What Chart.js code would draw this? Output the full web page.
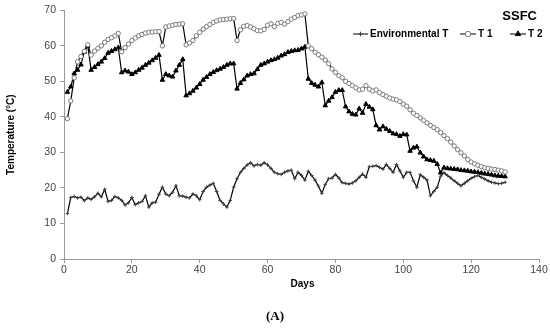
<!DOCTYPE html>
<html>
<head>
<meta charset="utf-8">
<script src="https://cdn.jsdelivr.net/npm/chart.js@4/dist/chart.umd.min.js"></script>
<style>
  html, body { margin: 0; padding: 0; background: #fff; }
  #wrap { width: 550px; height: 328px; position: relative; }
</style>
</head>
<body>
<div id="wrap"><canvas id="chart" width="550" height="328"></canvas></div>
<script>
// ── Data ──
const days = Array.from({ length: 130 }, (_, i) => i + 1);

const envT = [
  12.8, 17.3, 17.6, 17.2, 17.4, 16.4, 17.2, 16.8, 17.5, 18.5,
  17.5, 19.6, 16.2, 16.5, 17.6, 17.2, 16.5, 15.2, 15.8, 17.3,
  15.3, 15.8, 16.2, 17.8, 14.6, 15.8, 16.0, 18.2, 20.2, 18.3,
  17.8, 18.8, 20.6, 17.8, 17.7, 17.4, 17.2, 18.3, 17.8, 16.7,
  19.0, 20.2, 20.8, 21.3, 19.0, 16.5, 15.5, 14.6, 16.5, 20.2,
  22.6, 24.4, 25.5, 26.5, 27.1, 26.2, 26.6, 26.4, 27.1, 26.5,
  25.5, 24.4, 24.0, 23.8, 24.4, 24.8, 25.0, 22.6, 24.4, 23.5,
  22.2, 24.7, 23.5, 22.2, 20.5, 18.5, 21.0, 22.6, 22.8, 23.8,
  22.8, 21.5, 21.3, 21.1, 21.4, 22.0, 23.0, 23.9, 23.0, 26.0,
  26.1, 26.3, 25.8, 25.3, 26.6, 25.5, 24.4, 26.6, 24.8, 23.0,
  24.4, 24.4, 22.0, 20.2, 23.7, 23.0, 22.2, 17.8, 19.0, 20.2,
  23.3, 24.3, 23.5, 22.8, 22.0, 21.3, 20.6, 21.3, 22.0, 22.7,
  23.2, 23.5, 23.0, 22.5, 22.0, 21.6, 21.4, 21.2, 21.3, 21.6
];

const t1 = [
  39.5, 44.5, 51.0, 55.5, 57.0, 58.5, 60.3, 57.4, 58.5, 59.3,
  60.0, 61.0, 61.8, 62.3, 62.8, 63.5, 58.3, 59.5, 60.5, 61.5,
  62.2, 62.8, 63.2, 63.6, 63.8, 63.9, 64.0, 64.0, 60.0, 65.3,
  65.6, 65.8, 66.0, 66.1, 66.2, 60.3, 60.8, 61.5, 62.8, 63.8,
  64.7, 65.4, 66.0, 66.6, 67.0, 67.3, 67.4, 67.5, 67.6, 67.7,
  61.5, 64.5, 65.5, 65.7, 65.3, 64.8, 64.3, 64.2, 64.6, 65.8,
  66.2, 65.4, 66.3, 66.6, 66.1, 66.8, 67.5, 68.0, 68.5, 68.7,
  69.0, 60.0, 59.2, 58.2, 57.5, 56.8, 56.0, 55.0, 53.5, 52.5,
  51.6, 51.0, 50.0, 49.4, 48.8, 48.2, 47.6, 47.8, 48.8, 47.8,
  47.3, 47.6, 46.8, 46.3, 45.8, 45.3, 45.0, 44.8, 44.3, 43.6,
  43.0, 42.0, 41.0, 40.4, 39.7, 39.0, 38.3, 37.6, 37.0, 36.4,
  35.6, 34.7, 33.9, 32.9, 31.8, 30.8, 29.9, 29.0, 28.0, 27.3,
  26.8, 26.4, 26.0, 25.7, 25.5, 25.3, 25.2, 25.0, 24.8, 24.5
];

const t2 = [
  47.0, 48.5, 52.2, 53.2, 54.7, 58.3, 60.0, 53.2, 54.0, 54.8,
  55.5, 56.5, 58.0, 58.5, 59.0, 59.5, 52.5, 53.0, 52.7, 52.0,
  52.5, 53.2, 53.8, 54.6, 55.2, 55.9, 56.6, 57.4, 50.4, 52.0,
  51.6, 51.3, 53.0, 54.6, 56.2, 46.0, 46.6, 47.3, 48.2, 49.2,
  50.4, 51.2, 52.0, 52.6, 53.1, 53.5, 54.0, 54.6, 55.0, 55.0,
  47.9, 49.5, 50.5, 51.6, 52.0, 52.2, 53.4, 54.6, 55.0, 55.5,
  55.9, 56.2, 56.6, 57.2, 57.6, 58.2, 58.5, 58.7, 58.8, 59.2,
  59.7, 50.7, 49.5, 49.0, 48.5, 49.7, 43.2, 44.5, 45.5, 47.0,
  47.5, 47.5, 42.9, 41.5, 40.8, 40.6, 42.3, 41.1, 43.6, 42.8,
  42.1, 37.6, 36.4, 37.3, 36.6, 36.0, 35.3, 35.1, 34.6, 35.1,
  35.0, 30.4, 31.3, 31.6, 29.9, 28.8, 28.0, 27.8, 27.6, 26.7,
  24.3, 25.7, 25.5, 25.4, 25.3, 25.2, 25.0, 24.9, 24.8, 24.6,
  24.5, 24.4, 24.2, 24.0, 23.9, 23.7, 23.5, 23.4, 23.3, 23.2
];

const seriesNames = ['Environmental T', 'T 1', 'T 2'];
const xTicks = { min: 0, max: 140, step: 20 };
const yTicks = { min: 0, max: 70, step: 10 };

// ── Helpers ──
const toPoints = vals => vals.map((v, i) => ({ x: days[i], y: v }));

const FONT = "'Liberation Sans', Arial, sans-serif";

const styles = [
  { pointStyle: 'cross', radius: 1.8, bg: '#444', border: '#444', bw: 1 },
  { pointStyle: 'circle', radius: 2.2, bg: '#fff', border: '#7a7a7a', bw: 1 },
  { pointStyle: 'triangle', radius: 2.6, bg: '#000', border: '#000', bw: 1 },
];

// Extra labels: title, legend, axis titles, caption
const annotate = {
  id: 'annotate',
  afterDraw(chart) {
    const ctx = chart.ctx;
    const area = chart.chartArea;
    ctx.save();
    ctx.fillStyle = '#000';

    // SSFC title
    ctx.font = `bold 13px ${FONT}`;
    ctx.textAlign = 'right';
    ctx.textBaseline = 'middle';
    ctx.fillText('SSFC', 537, 16);

    // Legend
    const legendY = 34;
    const items = [
      { x0: 353, x1: 368 },
      { x0: 460, x1: 476 },
      { x0: 510, x1: 526 },
    ];
    ctx.font = `bold 10px ${FONT}`;
    ctx.textAlign = 'left';
    items.forEach((it, i) => {
      ctx.strokeStyle = '#000';
      ctx.lineWidth = 1;
      ctx.beginPath();
      ctx.moveTo(it.x0, legendY);
      ctx.lineTo(it.x1, legendY);
      ctx.stroke();
      const s = styles[i];
      ctx.fillStyle = s.bg;
      ctx.strokeStyle = s.border;
      Chart.helpers.drawPoint(ctx, {
        pointStyle: s.pointStyle, radius: s.radius + 0.5, borderWidth: s.bw, rotation: 0
      }, (it.x0 + it.x1) / 2, legendY);
      ctx.fillStyle = '#000';
      ctx.fillText(seriesNames[i], it.x1 + 2, legendY + 0.5);
    });

    // Axis titles
    ctx.font = `bold 10px ${FONT}`;
    ctx.textAlign = 'center';
    ctx.fillText('Days', (area.left + area.right) / 2 + 1, 284);

    ctx.save();
    ctx.translate(11, (area.top + area.bottom) / 2);
    ctx.rotate(-Math.PI / 2);
    ctx.fillText('Temperature (°C)', 0, 0);
    ctx.restore();

    // Caption
    ctx.font = `bold 13px 'Liberation Serif', 'Times New Roman', serif`;
    ctx.fillText('(A)', 275, 317);
    ctx.restore();
  }
};

const datasets = [envT, t1, t2].map((vals, i) => ({
  label: seriesNames[i],
  data: toPoints(vals),
  borderColor: '#000',
  borderWidth: 1.2,
  pointStyle: styles[i].pointStyle,
  pointRadius: styles[i].radius,
  pointBackgroundColor: styles[i].bg,
  pointBorderColor: styles[i].border,
  pointBorderWidth: styles[i].bw,
  tension: 0,
  fill: false,
}));

const axisColor = '#9a9a9a';

new Chart(document.getElementById('chart').getContext('2d'), {
  type: 'line',
  data: { datasets },
  options: {
    responsive: false,
    animation: false,
    devicePixelRatio: 1,
    layout: { padding: { top: 8, right: 11, left: 0, bottom: 0 } },
    plugins: {
      legend: { display: false },
      tooltip: { enabled: false },
    },
    scales: {
      x: {
        type: 'linear',
        min: xTicks.min,
        max: xTicks.max,
        ticks: {
          stepSize: xTicks.step,
          color: '#444',
          font: { size: 10.5, family: FONT },
          padding: 1,
          maxRotation: 0,
        },
        grid: { drawOnChartArea: false, drawTicks: true, tickLength: 4, color: axisColor },
        border: { color: axisColor, width: 1 },
        afterFit: scale => { scale.height = 69; },
      },
      y: {
        min: yTicks.min,
        max: yTicks.max,
        ticks: {
          stepSize: yTicks.step,
          color: '#444',
          font: { size: 10.5, family: FONT },
          padding: 4,
        },
        grid: { drawOnChartArea: false, drawTicks: true, tickLength: 4, color: axisColor },
        border: { color: axisColor, width: 1 },
        afterFit: scale => { scale.width = 64; },
      },
    },
  },
  plugins: [annotate],
});
</script>
</body>
</html>
